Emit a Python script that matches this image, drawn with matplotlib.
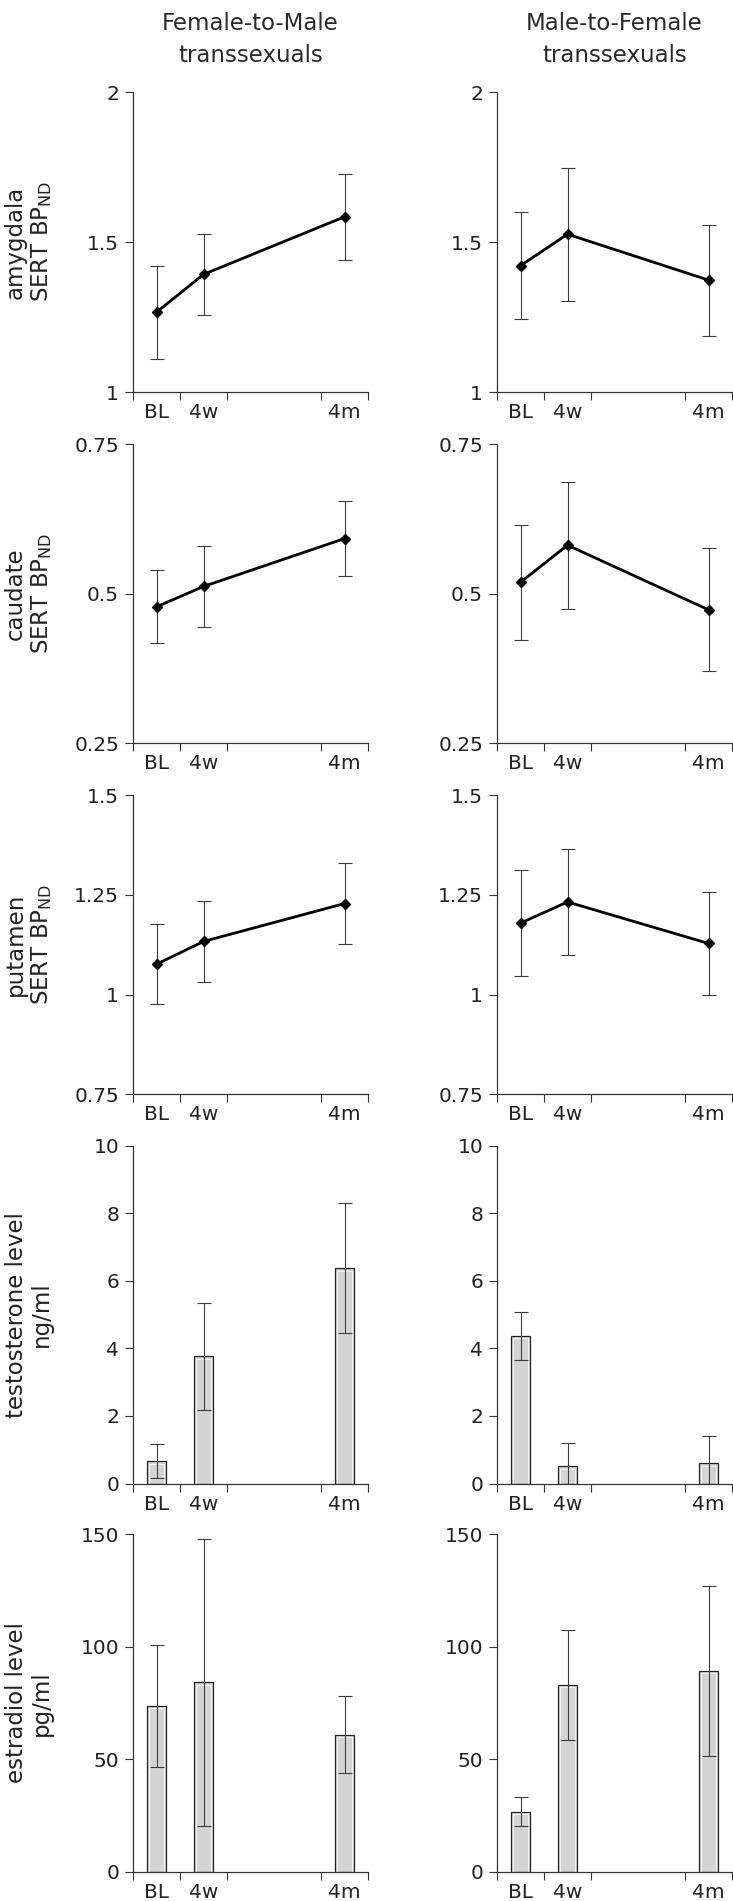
import numpy as np
import matplotlib
matplotlib.use('Agg')
import matplotlib.pyplot as plt

plt.rcParams['font.family'] = 'DejaVu Sans'
plt.rcParams['mathtext.fontset'] = 'dejavusans'

# Data: group means and SD (symmetric error bars).
timepoints = ['BL', '4w', '4m']
groups = ['Female-to-Male\ntranssexuals', 'Male-to-Female\ntranssexuals']

amygdala_ftm = [1.266, 1.392, 1.584]
amygdala_ftm_sd = [0.155, 0.136, 0.144]
amygdala_mtf = [1.421, 1.526, 1.373]
amygdala_mtf_sd = [0.179, 0.222, 0.185]

caudate_ftm = [0.478, 0.512, 0.592]
caudate_ftm_sd = [0.061, 0.067, 0.062]
caudate_mtf = [0.519, 0.581, 0.473]
caudate_mtf_sd = [0.096, 0.106, 0.103]

putamen_ftm = [1.076, 1.133, 1.228]
putamen_ftm_sd = [0.100, 0.102, 0.102]
putamen_mtf = [1.179, 1.232, 1.128]
putamen_mtf_sd = [0.132, 0.133, 0.130]

testosterone_ftm = [0.66, 3.76, 6.37]
testosterone_ftm_sd = [0.50, 1.58, 1.92]
testosterone_mtf = [4.37, 0.51, 0.60]
testosterone_mtf_sd = [0.70, 0.70, 0.80]

estradiol_ftm = [73.8, 84.2, 60.8]
estradiol_ftm_sd = [27.2, 63.9, 17.1]
estradiol_mtf = [26.7, 83.0, 89.2]
estradiol_mtf_sd = [6.3, 24.4, 37.8]

ylabels = ['amygdala\nSERT BP$_{\\mathrm{ND}}$',
           'caudate\nSERT BP$_{\\mathrm{ND}}$',
           'putamen\nSERT BP$_{\\mathrm{ND}}$',
           'testosterone level\nng/ml',
           'estradiol level\npg/ml']
yticks = [[1, 1.5, 2],
          [0.25, 0.5, 0.75],
          [0.75, 1, 1.25, 1.5],
          [0, 2, 4, 6, 8, 10],
          [0, 50, 100, 150]]
yticklabels = [['1', '1.5', '2'],
               ['0.25', '0.5', '0.75'],
               ['0.75', '1', '1.25', '1.5'],
               ['0', '2', '4', '6', '8', '10'],
               ['0', '50', '100', '150']]

rows = [
    ('line', (amygdala_ftm, amygdala_ftm_sd), (amygdala_mtf, amygdala_mtf_sd)),
    ('line', (caudate_ftm, caudate_ftm_sd), (caudate_mtf, caudate_mtf_sd)),
    ('line', (putamen_ftm, putamen_ftm_sd), (putamen_mtf, putamen_mtf_sd)),
    ('bar', (testosterone_ftm, testosterone_ftm_sd), (testosterone_mtf, testosterone_mtf_sd)),
    ('bar', (estradiol_ftm, estradiol_ftm_sd), (estradiol_mtf, estradiol_mtf_sd)),
]

# x positions: BL and 4w in adjacent slots, 4m after a gap
xpos = np.array([0.5, 1.5, 4.5])
xedges = [0, 1, 2, 4, 5]

W, H = 733, 1901
fig = plt.figure(figsize=(W / 100, H / 100), dpi=100)

col_left = [133, 497]
col_width = 235
row_pix = [(92, 392), (444, 743.3), (795, 1094.3), (1145.7, 1483.5), (1534.3, 1871.7)]

spine_color = '#333333'
err_color = '#3c3c3c'
bar_face = '#d4d4d4'
text_color = '#222222'
tick_fs = 14.5
label_fs = 16.5
title_fs = 16.5

for irow, (kind, ftm, mtf) in enumerate(rows):
    top, bot = row_pix[irow]
    for icol, (mean, sd) in enumerate([ftm, mtf]):
        ax = fig.add_axes([col_left[icol] / W, 1 - bot / H,
                           col_width / W, (bot - top) / H])
        mean = np.array(mean)
        sd = np.array(sd)
        if kind == 'line':
            ax.errorbar(xpos, mean, yerr=sd, fmt='none', ecolor=err_color,
                        elinewidth=0.8, capsize=5, capthick=0.8, zorder=2)
            ax.plot(xpos, mean, color='black', lw=2.0, marker='D',
                    markersize=5.5, zorder=3)
        else:
            ax.bar(xpos, mean, width=0.41, color=bar_face, edgecolor='#222222',
                   linewidth=0.9, zorder=2)
            # light inner rim of the bars
            yrange = yticks[irow][-1] - yticks[irow][0]
            ax.bar(xpos, mean - 0.007 * yrange, width=0.32, color='none',
                   edgecolor='#f4f4f4', linewidth=0.7, zorder=2.1)
            ax.errorbar(xpos, mean, yerr=sd, fmt='none', ecolor=err_color,
                        elinewidth=0.8, capsize=5, capthick=0.8, zorder=3)

        ax.set_xlim(0, 5)
        ax.set_ylim(yticks[irow][0], yticks[irow][-1])
        ax.set_yticks(yticks[irow])
        ax.set_yticklabels(yticklabels[irow], fontsize=tick_fs, color=text_color)
        ax.set_xticks(xpos)
        ax.set_xticklabels(timepoints, fontsize=tick_fs, color=text_color)
        ax.set_xticks(xedges, minor=True)
        ax.tick_params(axis='x', which='major', length=0, pad=8)
        ax.tick_params(axis='x', which='minor', length=6, width=0.8, color=spine_color)
        ax.tick_params(axis='y', length=6, width=0.8, color=spine_color, pad=4)

        for side in ['top', 'right']:
            ax.spines[side].set_visible(False)
        for side in ['left', 'bottom']:
            ax.spines[side].set_color(spine_color)
            ax.spines[side].set_linewidth(0.9)
        ax.patch.set_alpha(0)

        if icol == 0:
            ax.text(-0.443, 0.5, ylabels[irow], transform=ax.transAxes,
                    rotation=90, ha='center', va='center', fontsize=label_fs,
                    color=text_color, linespacing=1.15)
        if irow == 0:
            ax.text(0.5, 1 + (92 - 40) / (bot - top), groups[icol],
                    transform=ax.transAxes, ha='center', va='center',
                    fontsize=title_fs, color='#2a2a2a', linespacing=1.5)

fig.savefig('out.png', dpi=100)
